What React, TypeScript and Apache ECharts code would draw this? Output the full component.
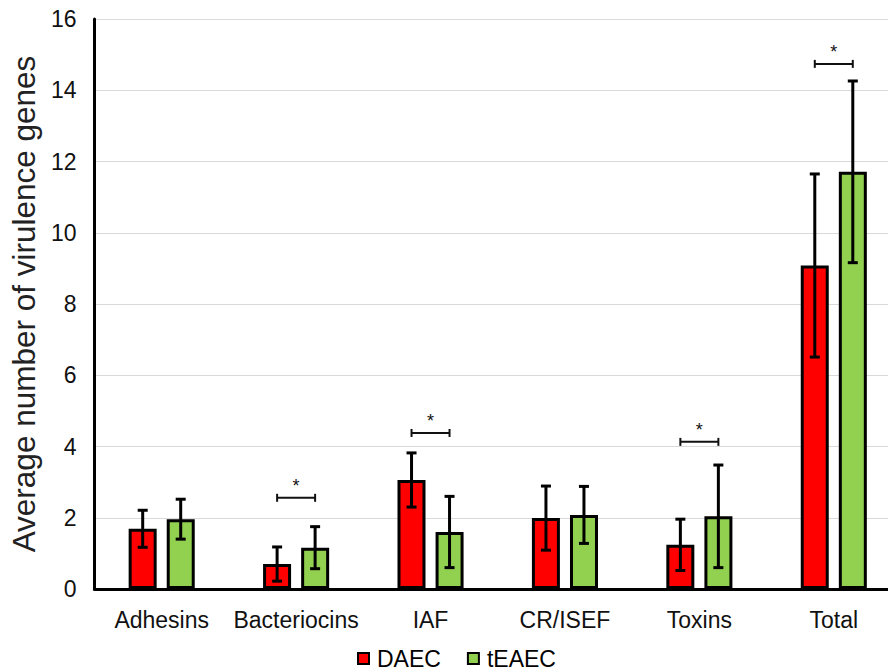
import React, { useEffect, useRef } from "react";
import * as echarts from "echarts";

const categories = ["Adhesins", "Bacteriocins", "IAF", "CR/ISEF", "Toxins", "Total"];
const daecMeans = [1.69, 0.7, 3.06, 1.99, 1.24, 9.08];
const daecSD = [0.52, 0.48, 0.76, 0.9, 0.72, 2.57];
const teaecMeans = [1.96, 1.16, 1.6, 2.08, 2.04, 11.71];
const teaecSD = [0.56, 0.59, 1.0, 0.8, 1.44, 2.55];
const sigCategories = [1, 2, 4, 5];
const sigLevels = [2.56, 4.38, 4.13, 14.74];
const yTicks = { min: 0, max: 16, interval: 2 };

const FONT = "Liberation Sans, Arial, sans-serif";
const BAR_W = 28;
const HALF_SEP = 19;

export default function App() {
  const ref = useRef<HTMLDivElement>(null);
  useEffect(() => {
    const chart = echarts.init(ref.current!, null, { renderer: "svg" });

    const errData = (means: number[], sds: number[]) =>
      means.map((m, i) => [i, m, sds[i]]);

    const errRender = (offset: number) => (params: any, api: any) => {
      const i = api.value(0);
      const m = api.value(1);
      const sd = api.value(2);
      const top = api.coord([i, m + sd]);
      const bot = api.coord([i, m - sd]);
      const x = top[0] + offset;
      const cap = 5;
      const style = { stroke: "#000", lineWidth: 3 };
      return {
        type: "group",
        children: [
          { type: "line", shape: { x1: x, y1: top[1], x2: x, y2: bot[1] }, style },
          { type: "line", shape: { x1: x - cap, y1: top[1], x2: x + cap, y2: top[1] }, style },
          { type: "line", shape: { x1: x - cap, y1: bot[1], x2: x + cap, y2: bot[1] }, style },
        ],
      };
    };

    const sigRender = (params: any, api: any) => {
      const i = api.value(0);
      const lv = api.value(1);
      const p = api.coord([i, lv]);
      const x1 = p[0] - HALF_SEP;
      const x2 = p[0] + HALF_SEP;
      const y = p[1];
      const style = { stroke: "#111", lineWidth: 2 };
      return {
        type: "group",
        children: [
          { type: "line", shape: { x1, y1: y, x2, y2: y }, style },
          { type: "line", shape: { x1, y1: y - 4, x2: x1, y2: y + 4 }, style },
          { type: "line", shape: { x1: x2, y1: y - 4, x2, y2: y + 4 }, style },
          {
            type: "text",
            x: p[0],
            y: y - 3,
            style: {
              text: "*",
              fill: "#111",
              font: `18px ${FONT}`,
              textAlign: "center",
              textVerticalAlign: "bottom",
            },
          },
        ],
      };
    };

    chart.setOption({
      animation: false,
      backgroundColor: "#fff",
      textStyle: { fontFamily: FONT },
      grid: { left: 94, top: 19, width: 807, height: 570, containLabel: false },
      legend: {
        left: 357,
        bottom: 0,
        padding: 0,
        itemWidth: 11,
        itemHeight: 11,
        itemGap: 26,
        icon: "rect",
        data: ["DAEC", "tEAEC"],
        textStyle: { fontSize: 23, color: "#000", fontFamily: FONT, padding: [0, 0, 0, 3] },
      },
      xAxis: {
        type: "category",
        data: categories,
        axisLine: { lineStyle: { color: "#000", width: 3 } },
        axisTick: { show: false },
        axisLabel: { fontSize: 23, color: "#111", margin: 19, interval: 0, fontFamily: FONT },
        splitLine: { show: false },
      },
      yAxis: {
        type: "value",
        min: yTicks.min,
        max: yTicks.max,
        interval: yTicks.interval,
        name: "Average number of virulence genes",
        nameLocation: "middle",
        nameGap: 54,
        nameTextStyle: { fontSize: 31.5, color: "#222", fontFamily: FONT },
        axisLine: { show: true, lineStyle: { color: "#000", width: 3 } },
        axisTick: { show: false },
        axisLabel: { fontSize: 23, color: "#111", margin: 18, fontFamily: FONT },
        splitLine: { lineStyle: { color: "#d9d9d9", width: 1 } },
      },
      series: [
        {
          name: "DAEC",
          type: "bar",
          data: daecMeans,
          barWidth: BAR_W,
          barGap: "36%",
          itemStyle: { color: "#ff0000", borderColor: "#000", borderWidth: 3 },
        },
        {
          name: "tEAEC",
          type: "bar",
          data: teaecMeans,
          barWidth: BAR_W,
          itemStyle: { color: "#92d050", borderColor: "#000", borderWidth: 3 },
        },
        {
          type: "custom",
          data: errData(daecMeans, daecSD),
          renderItem: errRender(-HALF_SEP),
          z: 5,
          silent: true,
        },
        {
          type: "custom",
          data: errData(teaecMeans, teaecSD),
          renderItem: errRender(HALF_SEP),
          z: 5,
          silent: true,
        },
        {
          type: "custom",
          data: sigCategories.map((c, k) => [c, sigLevels[k]]),
          renderItem: sigRender,
          z: 5,
          silent: true,
        },
      ],
    });
    return () => chart.dispose();
  }, []);
  return (
    <div style={{ width: 888, height: 670, position: "absolute", left: 0, top: 0, overflow: "hidden" }}>
      <div ref={ref} style={{ width: 910, height: 670, position: "absolute", left: 0, top: 0 }} />
    </div>
  );
}
